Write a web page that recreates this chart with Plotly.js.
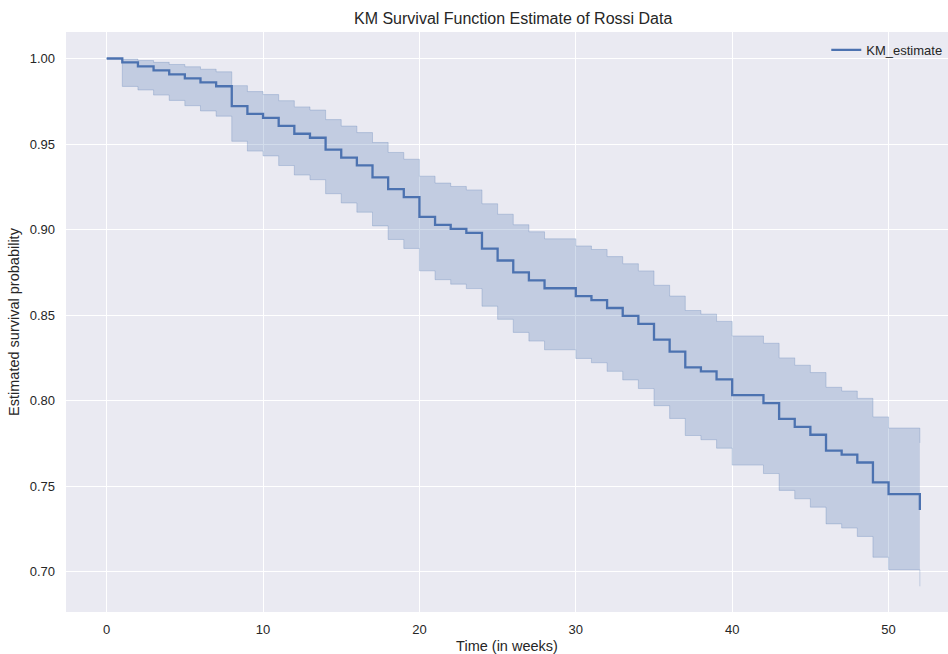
<!DOCTYPE html>
<html>
<head>
<meta charset="utf-8">
<script src="https://cdn.plot.ly/plotly-3.0.1.min.js"></script>
<style>
  html, body { margin: 0; padding: 0; background: #ffffff; }
  #chart { width: 948px; height: 654px; }
</style>
</head>
<body>
<div id="chart"></div>
<script>
// Time points (weeks) at which the Kaplan-Meier estimate steps
const weeks = [0,1,2,3,4,5,6,7,8,9,10,11,12,13,14,15,16,17,18,19,20,21,22,23,24,25,26,27,28,30,31,32,33,34,35,36,37,38,39,40,42,43,44,45,46,47,48,49,50,52];

// KM survival estimate
const survival = [1.0,0.99769,0.99537,0.99306,0.99074,0.98843,0.98611,0.98380,0.97222,0.96759,0.96528,0.96065,0.95602,0.95370,0.94676,0.94213,0.93750,0.93056,0.92361,0.91898,0.90741,0.90278,0.90046,0.89815,0.88889,0.88194,0.87500,0.87037,0.86574,0.86111,0.85880,0.85417,0.84954,0.84491,0.83565,0.82870,0.81944,0.81713,0.81250,0.80324,0.79861,0.78935,0.78472,0.78009,0.77083,0.76852,0.76389,0.75231,0.74537,0.73611];

// 95% confidence interval bounds
const ciLower = [1.0,0.98368,0.98162,0.97863,0.97552,0.97242,0.96935,0.96631,0.95161,0.94589,0.94307,0.93746,0.93191,0.92916,0.92097,0.91556,0.91018,0.90218,0.89423,0.88898,0.87591,0.87073,0.86812,0.86554,0.85524,0.84756,0.83992,0.83484,0.82977,0.82471,0.82218,0.81716,0.81213,0.80709,0.79709,0.78961,0.77966,0.77719,0.77224,0.76236,0.75743,0.74758,0.74268,0.73778,0.72800,0.72557,0.72067,0.70851,0.70121,0.69153];
const ciUpper = [1.0,0.99967,0.99884,0.99775,0.99651,0.99517,0.99374,0.99224,0.98413,0.98068,0.97892,0.97535,0.97172,0.96988,0.96430,0.96053,0.95670,0.95092,0.94508,0.94114,0.93122,0.92721,0.92522,0.92320,0.91510,0.90899,0.90284,0.89873,0.89460,0.89045,0.88838,0.88422,0.88004,0.87587,0.86748,0.86117,0.85272,0.85060,0.84635,0.83784,0.83358,0.82503,0.82074,0.81645,0.80784,0.80567,0.80136,0.79053,0.78402,0.77533];

const xTicks = [0,10,20,30,40,50];
const yTicks = [0.70,0.75,0.80,0.85,0.90,0.95,1.00];

const seriesName = "KM_estimate";
const chartTitle = "KM Survival Function Estimate of Rossi Data";
const xLabel = "Time (in weeks)";
const yLabel = "Estimated survival probability";

const blue = "#4C72B0";
const band = "rgba(76,114,176,0.25)";
const textColor = "#262626";
const font = "Liberation Sans, Arial, sans-serif";

const traces = [
  {
    x: weeks, y: ciUpper, type: "scatter", mode: "lines",
    line: {shape: "hv", color: band, width: 1},
    showlegend: false, hoverinfo: "skip"
  },
  {
    x: weeks, y: ciLower, type: "scatter", mode: "lines",
    line: {shape: "hv", color: band, width: 1},
    fill: "tonexty", fillcolor: band,
    showlegend: false, hoverinfo: "skip"
  },
  {
    x: weeks, y: survival, type: "scatter", mode: "lines",
    name: seriesName,
    line: {shape: "hv", color: blue, width: 2.3}
  }
];

const layout = {
  width: 948, height: 654,
  margin: {l: 66, r: 0, t: 32, b: 42, pad: 0},
  paper_bgcolor: "#ffffff",
  plot_bgcolor: "#EAEAF2",
  font: {family: font, color: textColor, size: 13},
  title: {
    text: chartTitle,
    font: {family: font, size: 16, color: textColor},
    xref: "paper", x: 0.507, xanchor: "center",
    yref: "container", y: 1 - 18/654, yanchor: "middle"
  },
  xaxis: {
    range: [-2.6, 53.8],
    tickvals: xTicks,
    ticktext: xTicks.map(String),
    showgrid: true, gridcolor: "#ffffff", gridwidth: 1,
    zeroline: false, showline: false, ticks: "",
    ticklabelstandoff: 8,
    tickfont: {family: font, size: 13, color: textColor},
    title: {text: xLabel, font: {family: font, size: 14.5, color: textColor}, standoff: 4}
  },
  yaxis: {
    range: [0.6765, 1.0155],
    tickvals: yTicks,
    ticktext: yTicks.map(v => v.toFixed(2)),
    showgrid: true, gridcolor: "#ffffff", gridwidth: 1,
    zeroline: false, showline: false, ticks: "",
    ticklabelstandoff: 10,
    tickfont: {family: font, size: 13, color: textColor},
    title: {text: yLabel, font: {family: font, size: 14.5, color: textColor}, standoff: 6}
  },
  legend: {
    x: 0.862, xanchor: "left",
    y: 0.995, yanchor: "top",
    bgcolor: "rgba(0,0,0,0)",
    font: {family: font, size: 13, color: textColor}
  },
  showlegend: true
};

Plotly.newPlot("chart", traces, layout, {displayModeBar: false, staticPlot: true});
</script>
</body>
</html>
